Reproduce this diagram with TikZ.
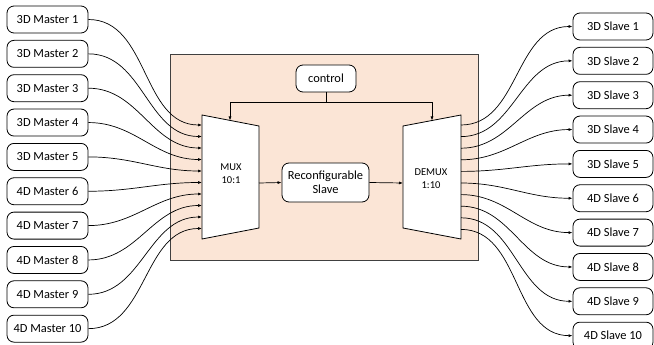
\documentclass[tikz,border=0pt]{standalone}
\usepackage{fontspec}
\setmainfont{Carlito}
\usetikzlibrary{arrows.meta}
\definecolor{framepeach}{HTML}{FBE5D6}
\definecolor{frameedge}{HTML}{404040}
\tikzset{
  port/.style={draw, rounded corners=7pt, minimum width=81pt, minimum height=27pt,
    line width=0.8pt, inner sep=0pt, font=\fontsize{12.4}{14}\selectfont},
  muxlabel/.style={align=center, inner sep=0pt, font=\fontsize{10.5}{13}\selectfont},
  wire/.style={line width=0.7pt},
  arr/.style={wire, -{Latex[length=4pt,width=3pt]}},
}
\begin{document}
\begin{tikzpicture}[x=1pt,y=-1pt]
   \useasboundingbox (0,0) rectangle (654,345);
   % frame
   \draw[fill=framepeach, draw=frameedge, line width=0.8pt] (170,54) rectangle (478,260);
   % mux and demux
   \draw[fill=white, line width=0.8pt] (202,115) -- (259,126) -- (259,228) -- (202,239) -- cycle;
   \draw[fill=white, line width=0.8pt] (403,126) -- (461,115) -- (461,239) -- (403,228) -- cycle;
   \node[muxlabel] (muxlbl) at (231,174) {MUX\\10:1};
   \node[muxlabel] (demuxlbl) at (431,179) {DEMUX\\1:10};
   \coordinate (muxout) at (259,183);
   \coordinate (demuxin) at (403,183);
   \coordinate (muxtop) at (230,120.5);
   \coordinate (demuxtop) at (432,120.5);
   % middle
   \node[port, fill=white, minimum width=87pt, minimum height=39pt, align=center] (rs) at (325.5,182.5) {Reconfigurable\\Slave};
   \node[port, fill=white, minimum width=60pt] (ctrl) at (326,78.5) {control};
   \coordinate (split) at (326,102);
   \draw[wire] (ctrl.south) -- (split);
   \draw[arr] (split) -| (muxtop);
   \draw[arr] (split) -| (demuxtop);
   \draw[arr] (muxout) -- (rs.west);
   \draw[arr] (rs.east) -- (demuxin);
   % masters and slaves
   \foreach \i in {1,...,10} {
     \pgfmathsetmacro{\kind}{ifthenelse(\i<6,3,4)}
     \pgfmathtruncatemacro{\kindi}{\kind}
     \node[port] (m\i) at (47.5,{19.5+34.35*(\i-1)}) {\kindi D Master \i};
     \node[port, minimum width=80pt] (s\i) at (613,{26.5+34.35*(\i-1)}) {\kindi D Slave \i};
     \coordinate (in\i) at (202,{125+11.5*(\i-1)});
     \coordinate (out\i) at (461,{125+11.6*(\i-1)});
     \draw[arr] (m\i.east) to[out=0,in=180] (in\i);
     \draw[arr] (out\i) to[out=0,in=180] (s\i.west);
   }
\end{tikzpicture}
\end{document}
